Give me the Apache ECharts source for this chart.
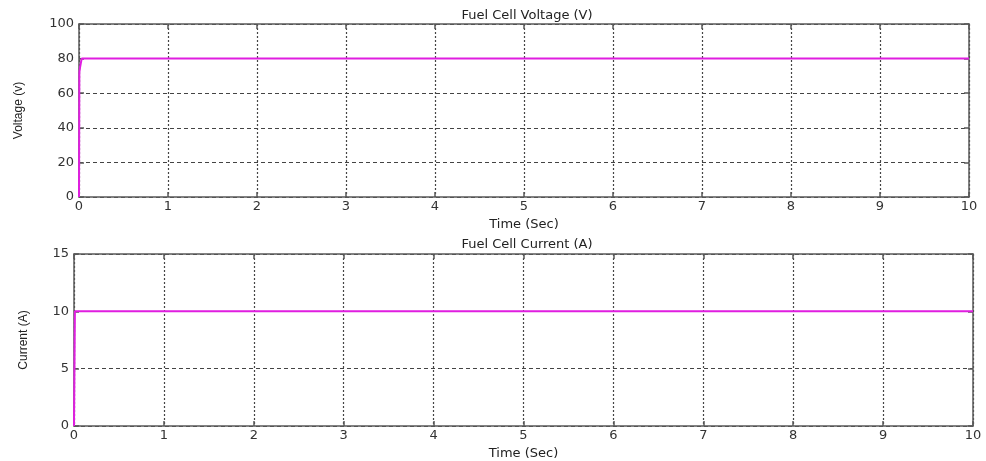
<!DOCTYPE html>
<html>
<head>
<meta charset="utf-8">
<script src="https://cdn.jsdelivr.net/npm/echarts@6/dist/echarts.min.js"></script>
<style>
  html, body { margin: 0; padding: 0; background: #fff; }
  #chart { width: 986px; height: 461px; }
</style>
</head>
<body>
<div id="chart"></div>
<script>
// Fuel cell simulation results: stack voltage and current versus time
const timeTicks = [0, 1, 2, 3, 4, 5, 6, 7, 8, 9, 10];
const voltageTime = [0, 0.004, 0.012, 0.03, 10];
const voltageValues = [0, 72, 75, 80, 80];
const currentTime = [0, 0.01, 10];
const currentValues = [0, 10, 10];

const titles = ['Fuel Cell Voltage (V)', 'Fuel Cell Current (A)'];
const yNames = ['Voltage (v)', 'Current (A)'];
const xName = 'Time (Sec)';

const FONT = '"DejaVu Sans", Verdana, sans-serif';
const NAME_FONT = '"Liberation Sans", Arial, sans-serif';
const lineColor = '#e01ee0';
const axisColor = '#5a5a5a';
const gridColor = '#444';

function pairs(xs, ys) { return xs.map((x, i) => [x, ys[i]]); }

const grids = [
  { left: 79, top: 24, width: 890, height: 173 },
  { left: 74, top: 254, width: 899, height: 173 }
];

const yRanges = [
  { max: 100, interval: 20 },
  { max: 15, interval: 5 }
];

const edgeLine = { show: true, onZero: false, lineStyle: { color: axisColor, width: 1.5 } };
const edgeTick = { inside: true, length: 5, lineStyle: { color: axisColor, width: 1.5 } };

const xAxes = [];
const yAxes = [];
grids.forEach((g, i) => {
  // main bottom axis with labels and dotted vertical grid
  xAxes.push({
    gridIndex: i, type: 'value', min: 0, max: 10, interval: 1, position: 'bottom',
    name: xName, nameLocation: 'middle', nameGap: 21,
    nameTextStyle: { fontFamily: FONT, fontSize: 13, color: '#222' },
    axisLine: edgeLine, axisTick: edgeTick,
    axisLabel: { fontFamily: FONT, fontSize: 13, color: '#333', margin: 3,
      formatter: v => timeTicks.includes(v) ? String(v) : '' },
    splitLine: { show: true, lineStyle: { color: gridColor, type: [2, 2], width: 1.2 } }
  });
  // mirrored top axis closing the box
  xAxes.push({
    gridIndex: i, type: 'value', min: 0, max: 10, interval: 1, position: 'top',
    axisLine: edgeLine, axisTick: edgeTick,
    axisLabel: { show: false }, splitLine: { show: false }
  });
  yAxes.push({
    gridIndex: i, type: 'value', min: 0, max: yRanges[i].max, interval: yRanges[i].interval,
    position: 'left',
    name: yNames[i], nameLocation: 'middle', nameGap: i === 0 ? 54 : 44, nameRotate: 90,
    nameTextStyle: { fontFamily: NAME_FONT, fontSize: 12, color: '#222' },
    axisLine: edgeLine, axisTick: edgeTick,
    axisLabel: { fontFamily: FONT, fontSize: 13, color: '#333', margin: 5 },
    splitLine: { show: true, lineStyle: { color: gridColor, type: [4, 3], width: 1.2 } }
  });
  // mirrored right axis closing the box
  yAxes.push({
    gridIndex: i, type: 'value', min: 0, max: yRanges[i].max, interval: yRanges[i].interval,
    position: 'right',
    axisLine: edgeLine, axisTick: edgeTick,
    axisLabel: { show: false }, splitLine: { show: false }
  });
});

const chart = echarts.init(document.getElementById('chart'), null, { renderer: 'canvas' });
chart.setOption({
  animation: false,
  backgroundColor: '#fff',
  title: [
    { text: titles[0], left: 522, top: 4, textAlign: 'center',
      textStyle: { fontFamily: FONT, fontSize: 13, fontWeight: 'normal', color: '#222' } },
    { text: titles[1], left: 522, top: 233, textAlign: 'center',
      textStyle: { fontFamily: FONT, fontSize: 13, fontWeight: 'normal', color: '#222' } }
  ],
  grid: grids,
  xAxis: xAxes,
  yAxis: yAxes,
  series: [
    { type: 'line', xAxisIndex: 0, yAxisIndex: 0, data: pairs(voltageTime, voltageValues),
      showSymbol: false, lineStyle: { color: lineColor, width: 2 }, z: 5 },
    { type: 'line', xAxisIndex: 2, yAxisIndex: 2, data: pairs(currentTime, currentValues),
      showSymbol: false, lineStyle: { color: lineColor, width: 2 }, z: 5 }
  ]
});
</script>
</body>
</html>
